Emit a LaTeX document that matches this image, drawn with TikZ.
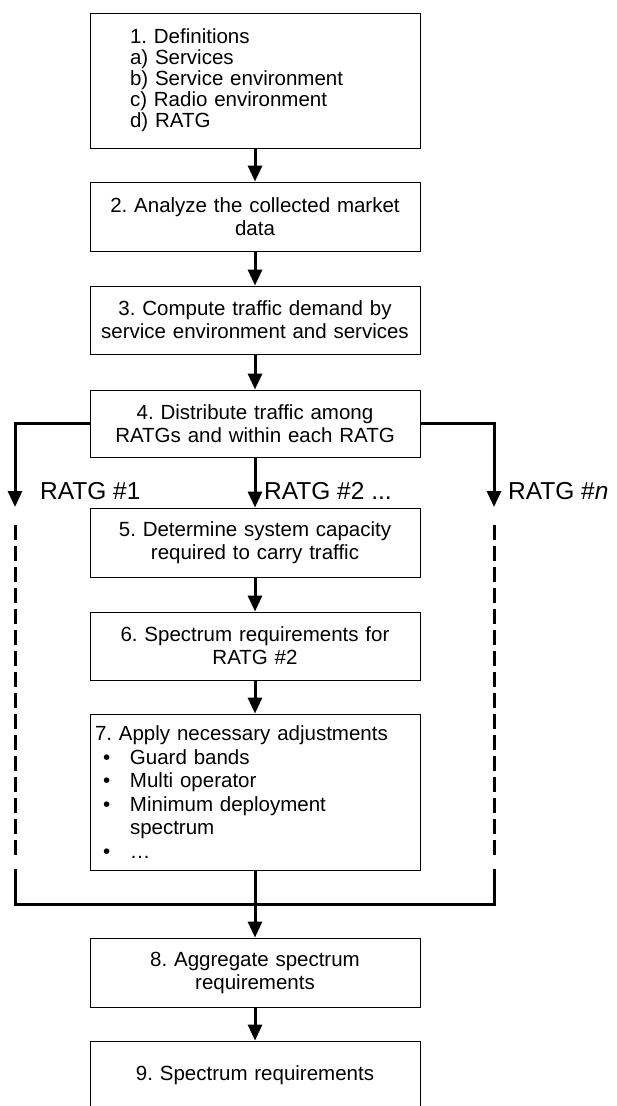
\documentclass[tikz,border=0pt]{standalone}
\usepackage{fontspec}
\setmainfont{Liberation Sans}
\usetikzlibrary{arrows.meta}
\frenchspacing
\newcommand\bul{\makebox[35pt][l]{\hspace{8pt}\textbullet}}
\begin{document}
\begin{tikzpicture}[x=1pt,y=-1pt,
  box/.style={draw, line width=0.9pt, minimum width=330pt, inner xsep=5pt, inner ysep=0pt,
              align=center, text width=320pt, font=\fontsize{20.5}{23}\selectfont},
  flow/.style={line width=3pt, -{Triangle[width=14pt,length=16pt]}},
  link/.style={line width=3pt},
  dashlink/.style={line width=3pt, dash pattern=on 15pt off 6pt},
  lab/.style={font=\fontsize{24.5}{28}\selectfont, anchor=base west, inner sep=0pt}]
\useasboundingbox (0,0) rectangle (617,1106);

\node[box, minimum height=135pt, align=left, text width=250pt, inner xsep=40pt,
      font=\fontsize{20.5}{21}\selectfont] (b1) at (255,80.5)
  {1. Definitions\\a) Services\\b) Service environment\\c) Radio environment\\d) RATG};
\node[box, minimum height=69pt] (b2) at (255,216.5) {2. Analyze the collected market\\data};
\node[box, minimum height=68pt] (b3) at (255,320) {3. Compute traffic demand by\\service environment and services};
\node[box, minimum height=67pt] (b4) at (255,423.5) {4. Distribute traffic among\\RATGs and within each RATG};
\node[box, minimum height=69pt] (b5) at (255,542.5) {5. Determine system capacity\\required to carry traffic};
\node[box, minimum height=68pt] (b6) at (255,646) {6. Spectrum requirements for\\RATG \#2};
\node[box, minimum height=156pt, align=left, font=\fontsize{20.5}{23.5}\selectfont] (b7) at (255,792)
  {7. Apply necessary adjustments\\
   \bul Guard bands\\
   \bul Multi operator\\
   \bul Minimum deployment\\
   \hspace*{35pt}spectrum\\
   \bul \dots};
\node[box, minimum height=69pt] (b8) at (255,972.5) {8. Aggregate spectrum\\requirements};
\node[box, minimum height=69pt] (b9) at (255,1075.5) {9. Spectrum requirements};

\draw[flow] (b1.south) -- (b2.north);
\draw[flow] (b2.south) -- (b3.north);
\draw[flow] (b3.south) -- (b4.north);
\draw[flow] (b4.south) -- (b5.north);
\draw[flow] (b5.south) -- (b6.north);
\draw[flow] (b6.south) -- (b7.north);
\draw[flow] (b7.south) -- (b8.north);
\draw[flow] (b8.south) -- (b9.north);

\coordinate (lt) at (15,507);
\coordinate (rt) at (494,507);
\draw[flow] (b4.west) -| (lt);
\draw[flow] (b4.east) -| (rt);

\coordinate (ld1) at (15,525);
\coordinate (ld2) at (15,856);
\coordinate (rd1) at (494,525);
\coordinate (rd2) at (494,856);
\draw[dashlink] (ld1) -- (ld2);
\draw[dashlink] (rd1) -- (rd2);

\coordinate (lb1) at (15,869);
\coordinate (lb2) at (15,904);
\coordinate (rb1) at (494,869);
\coordinate (rb2) at (494,904);
\draw[link] (lb1) -- (lb2) -- (rb2) -- (rb1);

\node[lab] (r1) at (40,499) {RATG \#1};
\node[lab] (r2) at (264,499) {RATG \#2 ...};
\node[lab] (rn) at (508,499) {RATG \#\textit{n}};
\end{tikzpicture}
\end{document}
